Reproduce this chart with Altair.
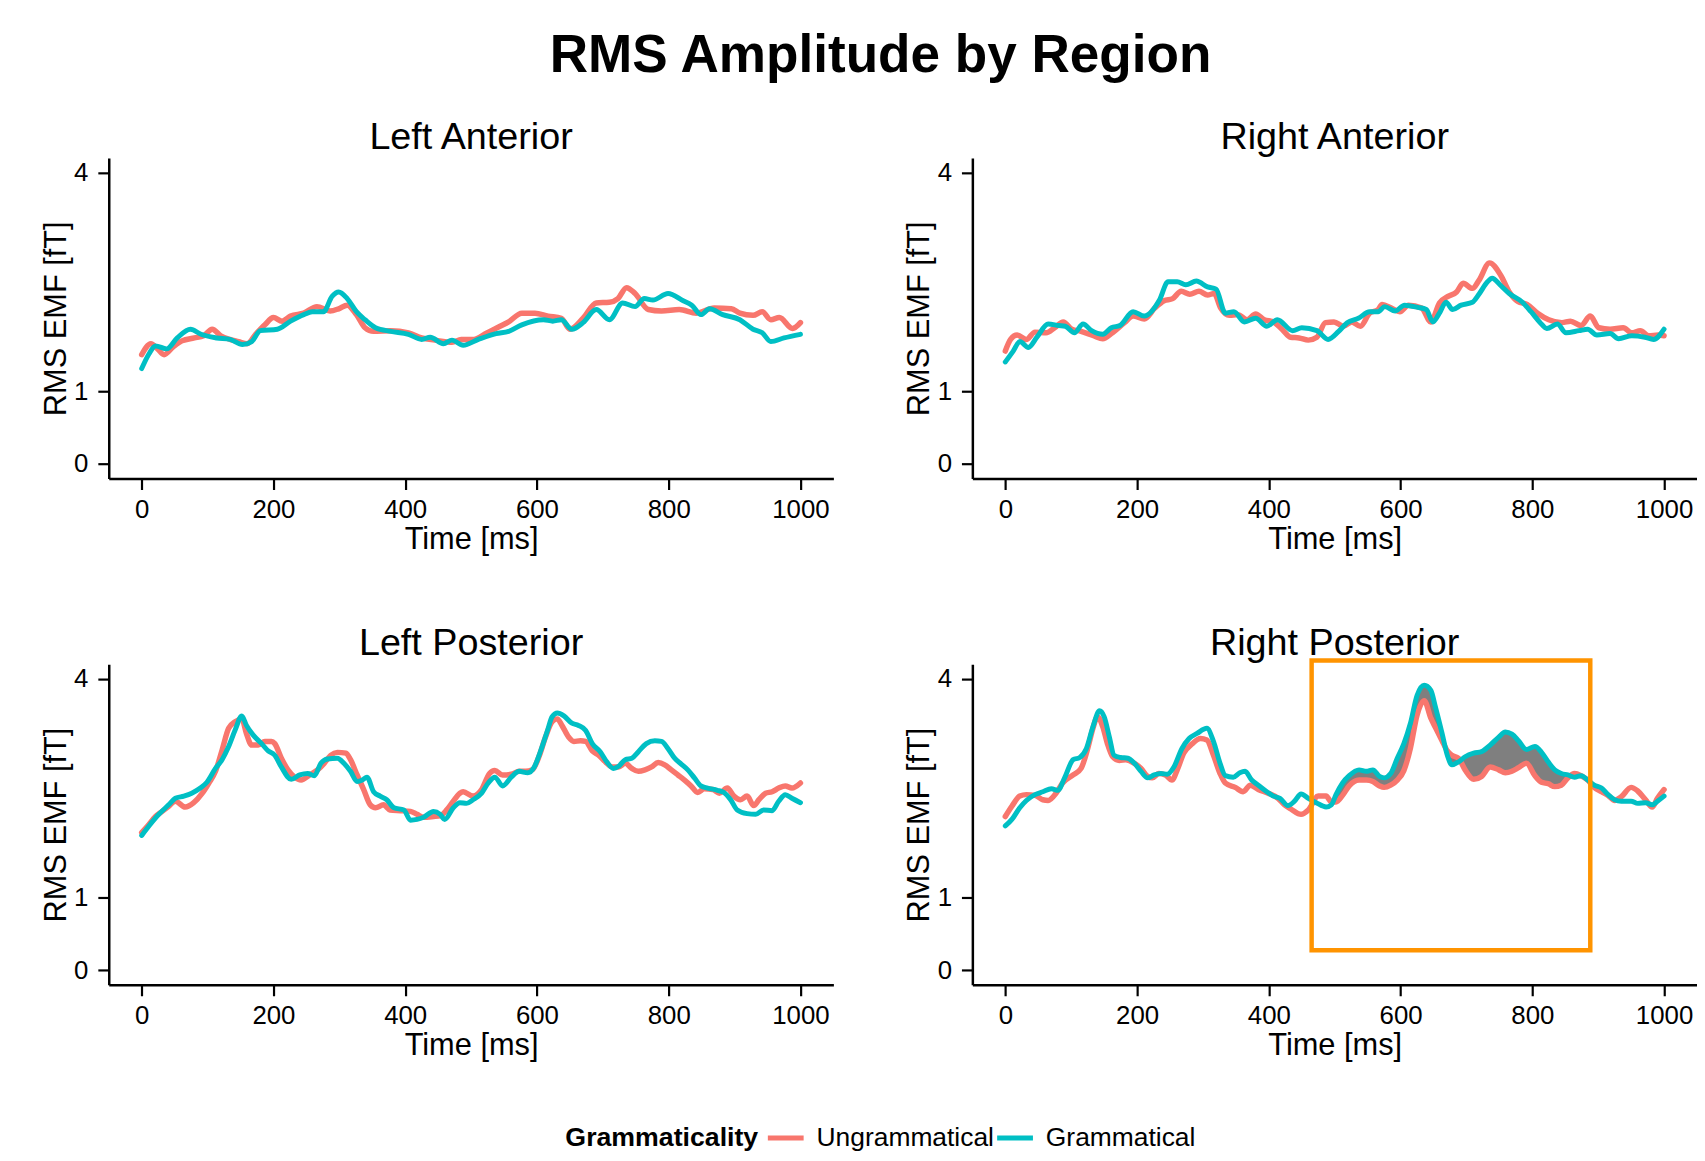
import altair as alt
import pandas as pd

FONT = "Liberation Sans"
RED = "#F8766D"
CYAN = "#00BFC4"
BOX_COLOR = "#FF9400"
RIBBON_COLOR = "#7F7F7F"

series_names = ["Ungrammatical", "Grammatical"]
panel_names = ["Left Anterior", "Right Anterior", "Left Posterior", "Right Posterior"]
x_ticks = [0, 200, 400, 600, 800, 1000]
y_ticks = [0, 1, 4]

# ---- Left Anterior ----
la_u_t = [0, 14, 24, 34, 47, 61, 80, 94, 107, 120, 134, 147, 160, 173, 187, 200, 213, 226, 246, 266,
          286, 299, 312, 326, 339, 352, 378, 405, 425, 445, 471, 485, 504, 524, 544, 557, 577, 597, 617, 637,
          650, 670, 690, 710, 723, 736, 749, 769, 789, 816, 842, 869, 895, 908, 928, 942, 955, 968, 988, 1000]
la_u_v = [1.50, 1.65, 1.58, 1.50, 1.60, 1.69, 1.73, 1.76, 1.85, 1.76, 1.71, 1.68, 1.65, 1.78, 1.91, 2.01, 1.96, 2.03, 2.07, 2.16,
          2.10, 2.13, 2.18, 2.05, 1.87, 1.82, 1.83, 1.80, 1.73, 1.70, 1.67, 1.71, 1.71, 1.80, 1.89, 1.95, 2.07, 2.07, 2.03, 2.00,
          1.85, 2.00, 2.21, 2.22, 2.27, 2.42, 2.34, 2.12, 2.10, 2.12, 2.07, 2.14, 2.13, 2.07, 2.04, 2.09, 1.98, 2.01, 1.86, 1.94]
la_g_t = [0, 11, 21, 38, 54, 74, 90, 114, 134, 153, 167, 180, 206, 226, 246, 259, 276, 289, 299, 312,
          326, 339, 355, 378, 405, 425, 438, 458, 471, 488, 511, 538, 557, 577, 610, 624, 637, 653, 670, 690,
          710, 730, 749, 763, 776, 799, 822, 835, 849, 862, 882, 908, 928, 942, 955, 975, 1000]
la_g_v = [1.31, 1.51, 1.62, 1.58, 1.73, 1.85, 1.78, 1.73, 1.71, 1.64, 1.68, 1.83, 1.85, 1.96, 2.05, 2.09, 2.09, 2.30, 2.36, 2.27,
          2.09, 1.98, 1.87, 1.82, 1.78, 1.71, 1.74, 1.65, 1.70, 1.63, 1.71, 1.79, 1.82, 1.91, 1.98, 1.96, 1.98, 1.85, 1.94, 2.12,
          1.98, 2.21, 2.16, 2.27, 2.25, 2.34, 2.24, 2.18, 2.05, 2.13, 2.05, 1.98, 1.85, 1.80, 1.68, 1.73, 1.78]

# ---- Right Anterior ----
ra_u_t = [0, 8, 18, 32, 45, 62, 75, 88, 101, 115, 134, 148, 161, 181, 194, 211, 227, 241, 254, 267,
          280, 294, 307, 317, 327, 340, 353, 367, 380, 393, 407, 420, 433, 446, 460, 473, 486, 499, 513, 526,
          539, 553, 566, 572, 586, 599, 612, 632, 646, 659, 672, 685, 695, 709, 719, 735, 752, 765, 778, 792,
          808, 825, 845, 858, 874, 888, 901, 918, 938, 951, 964, 977, 991, 1000]
ra_u_v = [1.55, 1.71, 1.77, 1.71, 1.81, 1.80, 1.87, 1.95, 1.85, 1.82, 1.76, 1.72, 1.79, 1.94, 2.03, 1.99, 2.14, 2.24, 2.27, 2.37,
          2.33, 2.37, 2.32, 2.34, 2.14, 2.04, 2.05, 1.98, 2.06, 1.98, 1.95, 1.85, 1.74, 1.73, 1.70, 1.74, 1.94, 1.95, 1.89, 1.95,
          1.89, 2.07, 2.12, 2.19, 2.14, 2.09, 2.18, 2.14, 1.95, 2.21, 2.30, 2.36, 2.48, 2.41, 2.52, 2.76, 2.59, 2.36, 2.23, 2.19,
          2.07, 1.98, 1.94, 1.96, 1.90, 2.03, 1.87, 1.85, 1.87, 1.80, 1.83, 1.76, 1.77, 1.76]
ra_g_t = [0, 12, 22, 35, 48, 65, 81, 91, 105, 118, 131, 148, 161, 174, 194, 211, 234, 247, 261, 274,
          290, 307, 320, 334, 347, 363, 380, 397, 413, 436, 450, 473, 490, 506, 519, 536, 553, 566, 576, 592,
          606, 626, 639, 649, 659, 669, 679, 692, 709, 719, 732, 739, 752, 765, 785, 798, 812, 822, 838, 851,
          871, 884, 898, 918, 931, 951, 971, 984, 1000]
ra_g_v = [1.40, 1.55, 1.68, 1.60, 1.74, 1.92, 1.90, 1.89, 1.80, 1.92, 1.83, 1.78, 1.87, 1.90, 2.09, 2.03, 2.25, 2.50, 2.50, 2.46,
          2.51, 2.43, 2.40, 2.07, 2.09, 1.95, 2.00, 1.89, 1.98, 1.83, 1.87, 1.83, 1.71, 1.82, 1.94, 2.00, 2.09, 2.09, 2.16, 2.10,
          2.18, 2.15, 2.12, 1.95, 2.07, 2.22, 2.12, 2.18, 2.22, 2.33, 2.50, 2.55, 2.45, 2.34, 2.22, 2.09, 1.94, 1.86, 1.92, 1.80,
          1.83, 1.85, 1.77, 1.79, 1.72, 1.76, 1.74, 1.71, 1.85]

# ---- Left Posterior ----
lp_u_t = [0, 9, 21, 31, 41, 51, 66, 79, 92, 102, 112, 122, 132, 142, 152, 159, 167, 177, 187, 197,
          202, 212, 222, 232, 242, 255, 267, 277, 287, 297, 310, 317, 327, 337, 347, 355, 367, 377, 393, 408,
          418, 428, 443, 453, 463, 473, 483, 488,
          503, 516, 528, 536, 548, 561, 573, 583, 593, 603, 613, 623, 631, 638, 648, 656, 666, 674, 684, 694,
          704, 714, 724, 734, 744, 754, 764, 774, 784, 794, 804, 814, 824, 834, 844, 854, 867, 877, 889, 899,
          909, 919, 929, 937, 947, 957, 967, 977, 987, 1000]
lp_u_v = [1.89, 1.98, 2.11, 2.18, 2.25, 2.32, 2.24, 2.30, 2.43, 2.57, 2.73, 3.02, 3.32, 3.41, 3.45, 3.25, 3.09, 3.09, 3.14, 3.14,
          3.11, 2.91, 2.75, 2.65, 2.61, 2.68, 2.75, 2.84, 2.95, 2.99, 2.98, 2.89, 2.68, 2.48, 2.27, 2.23, 2.27, 2.20, 2.19, 2.18,
          2.14, 2.10, 2.11, 2.12, 2.20, 2.32, 2.43, 2.45,
          2.39, 2.48, 2.70, 2.74, 2.68, 2.69, 2.73, 2.73, 2.75, 2.93, 3.20, 3.41, 3.45, 3.36, 3.20, 3.14, 3.15, 3.14, 3.01, 2.95,
          2.86, 2.79, 2.79, 2.84, 2.77, 2.73, 2.75, 2.79, 2.85, 2.82, 2.75, 2.68, 2.61, 2.53, 2.44, 2.49, 2.48, 2.43, 2.50, 2.39,
          2.34, 2.39, 2.26, 2.34, 2.43, 2.45, 2.50, 2.53, 2.50, 2.57]
lp_g_t = [0, 11, 26, 41, 51, 64, 76, 89, 99, 112, 122, 132, 142, 152, 159, 169, 182, 192, 202, 212,
          227, 240, 252, 262, 272, 282, 297, 307, 317, 327, 335, 342, 352, 362, 372, 383, 398, 408, 418, 428,
          443, 453, 460, 473, 483, 493,
          503, 516, 526, 536, 548, 561, 573, 586, 596, 606, 616, 623, 631, 641, 653, 663, 674, 684, 696, 706,
          716, 724, 734, 744, 754, 766, 779, 789, 799, 809, 819, 829, 839, 849, 859, 874, 884, 894, 904, 919,
          932, 944, 957, 967, 977, 987, 1000]
lp_g_v = [1.85, 1.98, 2.14, 2.27, 2.36, 2.39, 2.43, 2.50, 2.58, 2.77, 2.89, 3.07, 3.30, 3.49, 3.36, 3.23, 3.11, 3.01, 2.95, 2.79,
          2.62, 2.68, 2.70, 2.67, 2.84, 2.90, 2.91, 2.84, 2.73, 2.59, 2.61, 2.65, 2.45, 2.39, 2.34, 2.23, 2.20, 2.06, 2.07, 2.10,
          2.18, 2.14, 2.07, 2.23, 2.30, 2.29,
          2.34, 2.43, 2.57, 2.65, 2.53, 2.65, 2.73, 2.71, 2.79, 3.02, 3.29, 3.48, 3.53, 3.49, 3.39, 3.36, 3.29, 3.11, 3.00, 2.86,
          2.77, 2.80, 2.89, 2.91, 3.00, 3.11, 3.15, 3.14, 3.04, 2.91, 2.83, 2.75, 2.64, 2.53, 2.50, 2.47, 2.44, 2.34, 2.20, 2.15,
          2.14, 2.20, 2.19, 2.32, 2.41, 2.36, 2.30]

# ---- Right Posterior (first part, separate sampling) ----
rp_u_t = [0, 10, 22, 32, 45, 57, 65, 77, 87, 103, 115, 125, 133, 140, 148, 155, 163, 173, 183, 196,
          206, 216, 223, 233, 243, 253, 261, 271, 284, 296, 306, 316, 326, 334, 349, 361, 372, 384, 399, 414,
          424, 434, 449, 460, 475]
rp_u_v = [2.11, 2.25, 2.39, 2.41, 2.40, 2.34, 2.33, 2.43, 2.57, 2.68, 2.77, 3.04, 3.32, 3.48, 3.34, 3.11, 2.93, 2.88, 2.89, 2.84,
          2.77, 2.66, 2.64, 2.70, 2.68, 2.61, 2.75, 2.98, 3.11, 3.18, 3.16, 2.95, 2.70, 2.57, 2.51, 2.45, 2.54, 2.48, 2.43, 2.36,
          2.27, 2.21, 2.14, 2.20, 2.39]
rp_g_t = [0, 10, 22, 32, 45, 57, 70, 80, 90, 103, 113, 123, 133, 143, 150, 158, 165, 175, 186, 196,
          206, 216, 226, 236, 246, 256, 268, 279, 291, 306, 316, 326, 334, 346, 356, 364, 374, 384, 397, 407,
          417, 429, 439, 449, 460, 472]
rp_g_v = [1.98, 2.07, 2.23, 2.33, 2.41, 2.45, 2.49, 2.47, 2.64, 2.89, 2.92, 3.04, 3.34, 3.56, 3.48, 3.20, 2.95, 2.92, 2.91, 2.84,
          2.73, 2.64, 2.68, 2.70, 2.69, 2.79, 3.04, 3.18, 3.25, 3.32, 3.14, 2.84, 2.67, 2.65, 2.71, 2.73, 2.61, 2.54, 2.45, 2.39,
          2.36, 2.26, 2.32, 2.42, 2.36, 2.30]
# ---- Right Posterior (second part, common sampling for both series) ----
rp2_t = [487, 495, 502, 512, 522, 537, 548, 558, 568, 575, 585, 595, 605, 615, 625, 636, 646, 653, 663, 671,
         678, 688, 698, 711, 723, 736, 749, 759, 769, 779, 791, 804, 814, 824, 834, 844, 854, 864, 874, 884,
         894, 905, 915, 925, 935, 950, 960, 972, 982, 990, 1000]
rp2_u = [2.39, 2.31, 2.31, 2.40, 2.53, 2.61, 2.61, 2.59, 2.53, 2.51, 2.54, 2.61, 2.74, 3.05, 3.50, 3.70, 3.46, 3.33, 3.15, 3.01,
         2.95, 2.91, 2.75, 2.62, 2.66, 2.79, 2.75, 2.71, 2.73, 2.78, 2.84, 2.67, 2.58, 2.56, 2.52, 2.54, 2.64, 2.70, 2.67, 2.61,
         2.51, 2.45, 2.40, 2.33, 2.38, 2.51, 2.46, 2.34, 2.24, 2.36, 2.48]
rp2_g = [2.24, 2.27, 2.41, 2.57, 2.67, 2.75, 2.73, 2.75, 2.66, 2.64, 2.70, 2.91, 3.11, 3.39, 3.77, 3.91, 3.84, 3.61, 3.25, 2.95,
         2.82, 2.86, 2.93, 2.98, 3.00, 3.09, 3.20, 3.27, 3.24, 3.15, 3.03, 3.07, 2.99, 2.86, 2.75, 2.70, 2.68, 2.65, 2.67, 2.61,
         2.54, 2.50, 2.41, 2.34, 2.32, 2.32, 2.29, 2.30, 2.27, 2.32, 2.39]

# Shaded window (difference ribbon) and highlight box in Right Posterior
ribbon_range = [495, 884]
box_t = [465, 888]
box_v = [0.275, 4.25]

# ---------- tables ----------
rows = []
def add(panel, series, ts, vs):
    for t, v in zip(ts, vs):
        rows.append({"panel": panel, "series": series, "t": t, "v": v})

add("Left Anterior", "Ungrammatical", la_u_t, la_u_v)
add("Left Anterior", "Grammatical", la_g_t, la_g_v)
add("Right Anterior", "Ungrammatical", ra_u_t, ra_u_v)
add("Right Anterior", "Grammatical", ra_g_t, ra_g_v)
add("Left Posterior", "Ungrammatical", lp_u_t, lp_u_v)
add("Left Posterior", "Grammatical", lp_g_t, lp_g_v)
add("Right Posterior", "Ungrammatical", rp_u_t + rp2_t, rp_u_v + rp2_u)
add("Right Posterior", "Grammatical", rp_g_t + rp2_t, rp_g_v + rp2_g)
df = pd.DataFrame(rows)

rib = pd.DataFrame({"t": rp2_t, "lo": rp2_u, "hi": rp2_g})
rib = rib[(rib.t >= ribbon_range[0]) & (rib.t <= ribbon_range[1])]

box = pd.DataFrame({"x1": [box_t[0]], "x2": [box_t[1]], "y1": [box_v[0]], "y2": [box_v[1]]})

W, H = 730, 323
XS = alt.Scale(domain=[-50, 1050], nice=False, zero=False)
YS = alt.Scale(domain=[-0.2, 4.2], nice=False, zero=False)
XA = alt.Axis(values=x_ticks, format="d", title="Time [ms]", labelPadding=7, titlePadding=2)
YA = alt.Axis(values=y_ticks, format="d", title="RMS EMF [fT]", labelPadding=10, titlePadding=1.5)

legend = alt.Legend(
    title="Grammaticality", orient="none", legendX=460, legendY=966,
    direction="horizontal", titleOrient="left", symbolType="stroke",
    symbolStrokeWidth=5, symbolSize=1300, labelFontSize=26.6, titleFontSize=26.9,
    labelFont=FONT, titleFont=FONT, titleFontWeight="bold", labelOffset=10,
    columnPadding=-9, titlePadding=6, labelColor="black", titleColor="black",
    titleBaseline="line-top", titleLineHeight=9.3, titleAnchor="middle",
    titleLimit=400, labelLimit=400,
)
COLOR = alt.Color("series:N", scale=alt.Scale(domain=series_names, range=[RED, CYAN]),
                  legend=legend, sort=series_names)


def box_layer(visible):
    if visible:
        mk = alt.Chart(box).mark_rect(fill=None, fillOpacity=0, stroke=BOX_COLOR, strokeWidth=4.5, clip=False)
    else:
        # invisible twin so every panel title sits at the same height
        mk = alt.Chart(box).mark_rect(fill=None, fillOpacity=0, stroke="white", strokeOpacity=0.001,
                                      strokeWidth=4.5, clip=False)
    return mk.encode(
        x=alt.X("x1:Q", scale=XS, axis=XA), x2="x2:Q",
        y=alt.Y("y1:Q", scale=YS, axis=YA), y2="y2:Q",
    )


def panel(name):
    base = alt.Chart(df).transform_filter(alt.datum.panel == name)
    layers = []
    is_rp = name == "Right Posterior"
    if is_rp:
        layers.append(
            alt.Chart(rib).mark_area(color=RIBBON_COLOR, opacity=1, interpolate="monotone").encode(
                x=alt.X("t:Q", scale=XS, axis=XA),
                y=alt.Y("lo:Q", scale=YS, axis=YA),
                y2="hi:Q",
            )
        )
    for s, sw in zip(series_names, [5.5, 5]):
        layers.append(
            base.transform_filter(alt.datum.series == s)
            .mark_line(strokeWidth=sw, interpolate="monotone", strokeCap="round", strokeJoin="round")
            .encode(x=alt.X("t:Q", scale=XS, axis=XA),
                    y=alt.Y("v:Q", scale=YS, axis=YA),
                    color=COLOR)
        )
    layers.append(box_layer(is_rp))
    return alt.layer(*layers).properties(
        width=W, height=H,
        title=alt.TitleParams(name, fontSize=38, font=FONT, fontWeight="normal", color="black",
                              anchor="middle", baseline="alphabetic", offset=-34.4, frame="group"),
    )


top = alt.hconcat(panel("Left Anterior"), panel("Right Anterior"), spacing=71)
bottom = alt.hconcat(panel("Left Posterior"), panel("Right Posterior"), spacing=71)

chart = alt.vconcat(top, bottom, spacing=71).properties(
    title=alt.TitleParams("RMS Amplitude by Region", fontSize=53.5, font=FONT, fontWeight="bold",
                          color="black", anchor="middle", offset=36, dx=12),
    padding={"left": 32.5, "top": 15.8, "right": 0, "bottom": 5},
    background="white",
).configure_view(stroke=None).configure_axis(
    labelFont=FONT, labelFontSize=26, labelColor="black",
    titleFont=FONT, titleFontSize=31, titleFontWeight="normal", titleColor="black",
    domainColor="black", domainWidth=2.5, tickColor="black", tickWidth=2.2, tickSize=11,
    grid=False,
)

chart.save("out.html", embed_options={"renderer": "svg", "actions": False})
